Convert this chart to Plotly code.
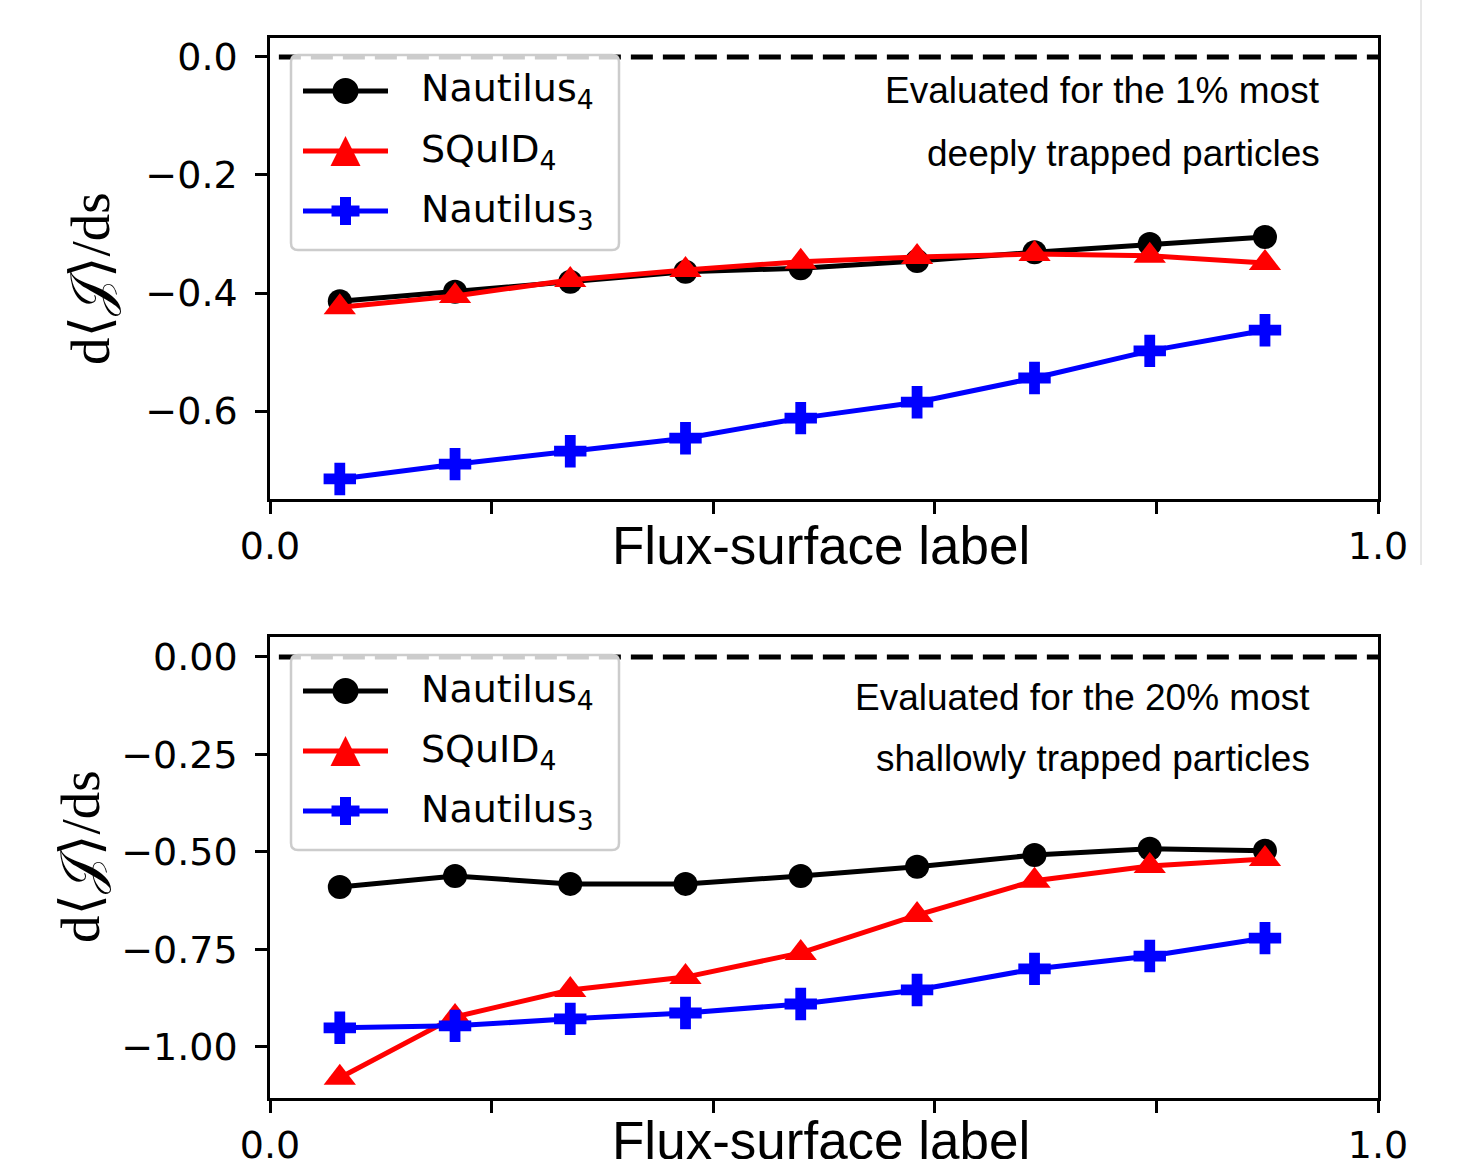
import plotly.graph_objects as go

# Flux-surface label positions shared by both panels
s = [0.063, 0.167, 0.271, 0.375, 0.479, 0.584, 0.690, 0.794, 0.898]

# Upper panel: 1% most deeply trapped particles
deep_nautilus4 = [-0.414, -0.398, -0.381, -0.364, -0.358, -0.346, -0.331, -0.317, -0.305]
deep_squid4 = [-0.424, -0.405, -0.378, -0.361, -0.347, -0.339, -0.334, -0.337, -0.349]
deep_nautilus3 = [-0.715, -0.690, -0.668, -0.646, -0.612, -0.585, -0.544, -0.498, -0.463]

# Lower panel: 20% most shallowly trapped particles
shallow_nautilus4 = [-0.590, -0.562, -0.582, -0.582, -0.562, -0.538, -0.508, -0.492, -0.497]
shallow_squid4 = [-1.079, -0.923, -0.854, -0.821, -0.759, -0.662, -0.574, -0.536, -0.518]
shallow_nautilus3 = [-0.951, -0.946, -0.928, -0.913, -0.890, -0.854, -0.800, -0.767, -0.721]

series_names = ["Nautilus<sub>4</sub>", "SQuID<sub>4</sub>", "Nautilus<sub>3</sub>"]
series_colors = ["#000000", "#ff0000", "#0000ff"]
series_symbols = ["circle", "triangle-up", "cross"]
series_sizes = [24, 28, 27]

x_tickvals = [0.0, 0.2, 0.4, 0.6, 0.8, 1.0]
x_ticktext = ["0.0", "", "", "", "", "1.0"]
top_yticks = [0.0, -0.2, -0.4, -0.6]
bottom_yticks = [0.0, -0.25, -0.5, -0.75, -1.0]

W, H = 1475, 1159


def fx(p):
    return p / W


def fy(p):
    return 1 - p / H


fig = go.Figure()

panels = [
    ("x", "y", [deep_nautilus4, deep_squid4, deep_nautilus3]),
    ("x2", "y2", [shallow_nautilus4, shallow_squid4, shallow_nautilus3]),
]
for xa, ya, data in panels:
    for i, vals in enumerate(data):
        fig.add_trace(go.Scatter(
            x=s, y=vals, xaxis=xa, yaxis=ya,
            name=series_names[i], showlegend=False,
            mode="lines+markers",
            line=dict(color=series_colors[i], width=5),
            marker=dict(symbol=series_symbols[i], size=series_sizes[i],
                        color=series_colors[i], line=dict(width=0)),
        ))

tick_font = dict(family="DejaVu Sans", size=38, color="black")
axis_common = dict(
    showline=True, linewidth=2.5, linecolor="black", mirror=True,
    ticks="outside", ticklen=12, tickwidth=2.5, tickcolor="black",
    showgrid=False, zeroline=False, tickfont=tick_font, automargin=False,
)

x_dom = [fx(270), fx(1378)]
fig.update_layout(
    template="none",
    width=W, height=H,
    margin=dict(l=0, r=0, t=0, b=0),
    paper_bgcolor="white", plot_bgcolor="white",
    showlegend=False,
    xaxis=dict(domain=x_dom, anchor="y", range=[0, 1], tickvals=x_tickvals,
               ticktext=x_ticktext, ticklabelstandoff=0, **axis_common),
    yaxis=dict(domain=[fy(499), fy(38)], anchor="x", range=[-0.749, 0.032],
               tickvals=top_yticks, tickformat=".1f", ticklabelstandoff=10,
               **axis_common),
    xaxis2=dict(domain=x_dom, anchor="y2", range=[0, 1], tickvals=x_tickvals,
                ticktext=x_ticktext, ticklabelstandoff=0, **axis_common),
    yaxis2=dict(domain=[fy(1098), fy(637)], anchor="x2", range=[-1.131, 0.051],
                tickvals=bottom_yticks, tickformat=".2f", ticklabelstandoff=10,
                **axis_common),
)

# Zero reference lines
for xr, yr in [("x", "y"), ("x2", "y2")]:
    fig.add_shape(type="line", xref=f"{xr} domain", yref=yr, x0=0.008, x1=1,
                  y0=0, y1=0, line=dict(color="black", width=5, dash="22px,10px"),
                  layer="below")

# Thin separator at the right of the upper panel
fig.add_shape(type="line", xref="paper", yref="paper", x0=fx(1421), x1=fx(1421),
              y0=fy(565), y1=1, line=dict(color="#d0d0d0", width=1))


# Legend boxes with line/marker keys, one per panel
def rounded_box(x0, y0, x1, y1, r):
    X = lambda p: fx(p)
    Y = lambda p: fy(p)
    return (f"M {X(x0 + r)},{Y(y0)} L {X(x1 - r)},{Y(y0)} "
            f"Q {X(x1)},{Y(y0)} {X(x1)},{Y(y0 + r)} L {X(x1)},{Y(y1 - r)} "
            f"Q {X(x1)},{Y(y1)} {X(x1 - r)},{Y(y1)} L {X(x0 + r)},{Y(y1)} "
            f"Q {X(x0)},{Y(y1)} {X(x0)},{Y(y1 - r)} L {X(x0)},{Y(y0 + r)} "
            f"Q {X(x0)},{Y(y0)} {X(x0 + r)},{Y(y0)} Z")


def poly(points):
    return "M " + " L ".join(f"{fx(a)},{fy(b)}" for a, b in points) + " Z"


legend_font = dict(family="DejaVu Sans", size=38, color="black")
for top in [55, 655]:
    fig.add_shape(type="path", xref="paper", yref="paper",
                  path=rounded_box(291, top, 619, top + 195, 7),
                  fillcolor="rgba(255,255,255,0.8)",
                  line=dict(color="#cccccc", width=2.5))
    for i in range(3):
        cy = top + 36 + 60 * i
        col = series_colors[i]
        fig.add_shape(type="line", xref="paper", yref="paper",
                      x0=fx(303), x1=fx(388), y0=fy(cy), y1=fy(cy),
                      line=dict(color=col, width=5))
        cx = 345.5
        if i == 0:
            fig.add_shape(type="circle", xref="paper", yref="paper",
                          x0=fx(cx - 13), x1=fx(cx + 13),
                          y0=fy(cy + 13), y1=fy(cy - 13),
                          fillcolor=col, line=dict(width=0))
        elif i == 1:
            fig.add_shape(type="path", xref="paper", yref="paper",
                          path=poly([(cx, cy - 15), (cx + 15, cy + 15),
                                     (cx - 15, cy + 15)]),
                          fillcolor=col, line=dict(width=0))
        else:
            a, b = 14, 5.5
            fig.add_shape(type="path", xref="paper", yref="paper",
                          path=poly([(cx - b, cy - a), (cx + b, cy - a),
                                     (cx + b, cy - b), (cx + a, cy - b),
                                     (cx + a, cy + b), (cx + b, cy + b),
                                     (cx + b, cy + a), (cx - b, cy + a),
                                     (cx - b, cy + b), (cx - a, cy + b),
                                     (cx - a, cy - b), (cx - b, cy - b)]),
                          fillcolor=col, line=dict(width=0))
        fig.add_annotation(text=series_names[i], x=fx(419), y=fy(cy),
                           xref="paper", yref="paper", xanchor="left",
                           yanchor="middle", showarrow=False, font=legend_font)

note_font = dict(family="Liberation Sans, Arial", size=37, color="black")
label_font = dict(family="Liberation Sans, Arial", size=53, color="black")
ytitle_font = dict(family="Liberation Serif, DejaVu Serif, serif", size=55,
                   color="black")

notes = [
    ("Evaluated for the 1% most", fx(1322), fy(91)),
    ("deeply trapped particles", fx(1322), fy(154)),
    ("Evaluated for the 20% most", fx(1312), fy(697)),
    ("shallowly trapped particles", fx(1312), fy(758)),
]
for text, x, y in notes:
    fig.add_annotation(text=text, x=x, y=y, xref="paper", yref="paper",
                       xanchor="right", yanchor="middle", showarrow=False,
                       font=note_font)

for y in [fy(545), fy(1140)]:
    fig.add_annotation(text="Flux-surface label", x=fx(821), y=y, xref="paper",
                       yref="paper", xanchor="center", yanchor="middle",
                       showarrow=False, font=label_font)

for x, y in [(fx(90), fy(279)), (fx(80), fy(857))]:
    fig.add_annotation(text="d⟨𝒥⟩/ds", x=x, y=y, xref="paper", yref="paper",
                       xanchor="center", yanchor="middle", textangle=-90,
                       showarrow=False, font=ytitle_font)

fig.write_html("out.html")
